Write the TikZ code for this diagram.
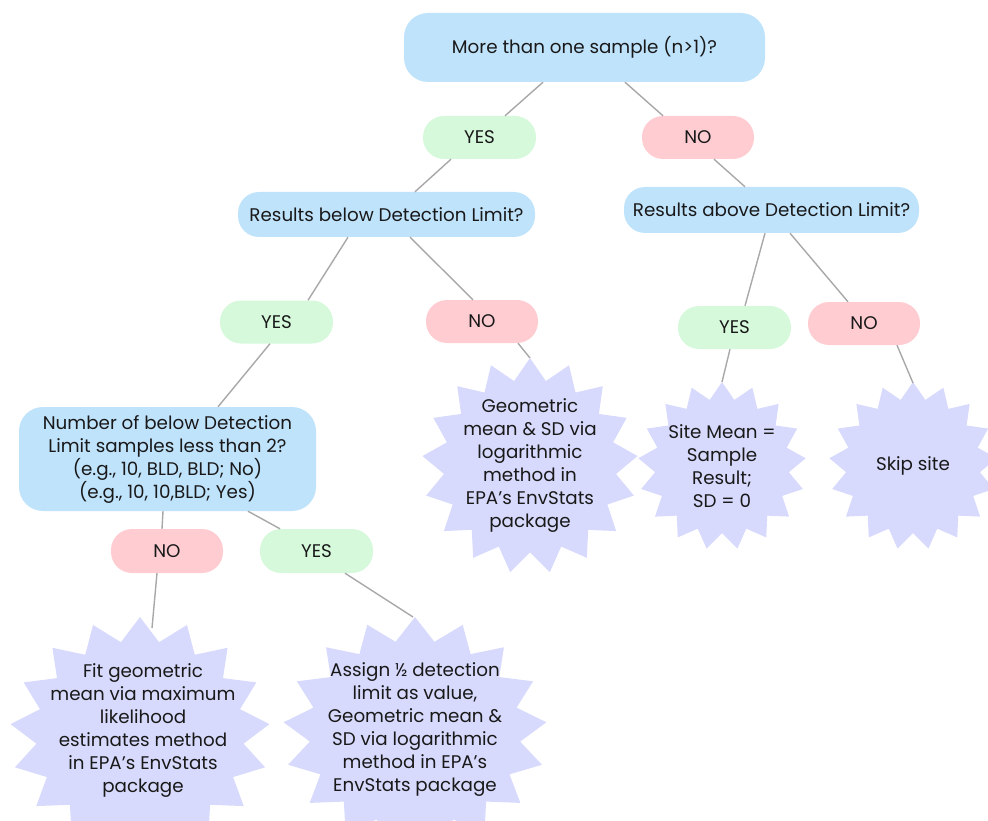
\documentclass[tikz,border=0pt]{standalone}
\usepackage{fontspec}
\setmainfont{Poppins}
\usetikzlibrary{calc}
\definecolor{cblue}{RGB}{192,227,252}
\definecolor{cgreen}{RGB}{214,249,220}
\definecolor{cpink}{RGB}{255,204,210}
\definecolor{clav}{RGB}{215,218,252}
\definecolor{cline}{RGB}{168,168,168}
\definecolor{ink}{RGB}{25,25,25}
\newcommand\starburst[4]{%
  \fill[clav] ({#1+#3*cos(-90)},{#2+#4*sin(-90)})
  \foreach \k in {0,...,16}{ -- ({#1+0.8*#3*cos(-90+(\k+0.5)*360/17)},{#2+0.8*#4*sin(-90+(\k+0.5)*360/17)}) -- ({#1+#3*cos(-90+(\k+1)*360/17)},{#2+#4*sin(-90+(\k+1)*360/17)}) } -- cycle;}
\begin{document}
\begin{tikzpicture}[x=1pt,y=-1pt,
  every node/.style={text=ink, font=\fontsize{18.3}{23}\selectfont, inner sep=0pt, align=center},
  qbox/.style={fill=cblue, rounded corners=#1},
  qbox/.default=22pt,
  yesbox/.style={fill=cgreen, rounded corners=21pt, minimum width=113pt, minimum height=43pt},
  nobox/.style={fill=cpink, rounded corners=21pt, minimum width=112pt, minimum height=43pt},
  conn/.style={draw=cline, line width=1.4pt}]
\useasboundingbox (0,0) rectangle (988,821);
\clip (0,0) rectangle (988,821);
% bursts
\starburst{530}{466}{108}{108}
\starburst{722}{466}{84}{84}
\starburst{913}{466}{84}{84}
\starburst{140}{735}{130}{118}
\starburst{415}{733}{132}{116}
\coordinate (geotop) at (530,358);
\coordinate (sitetop) at (722,382);
\coordinate (skiptop) at (913,383);
\coordinate (bltop) at (152,628);
\coordinate (brtop) at (413,617);
% question boxes
\node[qbox=24pt, minimum width=361pt, minimum height=69pt] (top) at (584.5,47.5) {More than one sample (n>1)?};
\node[qbox=21pt, minimum width=297pt, minimum height=45pt] (rbelow) at (386.5,214.5) {Results below Detection Limit?};
\node[qbox=21pt, minimum width=295pt, minimum height=46pt] (rabove) at (771.5,210) {Results above Detection Limit?};
\node[qbox=24pt, minimum width=297pt, minimum height=104pt] (num) at (167.5,459) {Number of below Detection\\Limit samples less than 2?\\(e.g., 10, BLD, BLD; No)\\(e.g., 10, 10,BLD; Yes)};
% answers
\node[yesbox] (yes1) at (479.5,137.5) {YES};
\node[nobox] (no1) at (698,137.5) {NO};
\node[yesbox] (yes2) at (276.5,322) {YES};
\node[nobox] (no2) at (482,321.5) {NO};
\node[yesbox] (yes3) at (734.5,327.5) {YES};
\node[nobox] (no3) at (864,323.5) {NO};
\node[nobox, minimum height=44pt] (no4) at (167,551) {NO};
\node[yesbox, minimum height=44pt] (yes4) at (316.5,551) {YES};
% burst texts
\node (tgeo) at (530,466) {Geometric\\mean \& SD via\\logarithmic\\method in\\EPA’s EnvStats\\package};
\node (tsite) at (722,466) {Site Mean =\\Sample\\Result;\\SD = 0};
\node (tskip) at (913,466) {Skip site};
\node (tbl) at (143,731) {Fit geometric\\mean via maximum\\likelihood\\estimates method\\in EPA’s EnvStats\\package};
\node (tbr) at (415,730) {Assign ½ detection\\limit as value,\\Geometric mean \&\\SD via logarithmic\\method in EPA’s\\EnvStats package};
% connectors
\draw[conn] ($(top.south)+(-41.5,0)$) -- ($(yes1.north)+(25.5,0)$);
\draw[conn] ($(top.south)+(40.5,0)$) -- ($(no1.north)+(-35,0)$);
\draw[conn] ($(yes1.south)+(-28.5,0)$) -- ($(rbelow.north)+(28.5,0)$);
\draw[conn] ($(no1.south)+(16,0)$) -- ($(rabove.north)+(-26.5,0)$);
\draw[conn] ($(rbelow.south)+(-38.5,0)$) -- ($(yes2.north)+(31.5,0)$);
\draw[conn] ($(rbelow.south)+(23.5,0)$) -- ($(no2.north)+(-9,0)$);
\draw[conn] ($(yes2.south)+(-6.5,0)$) -- ($(num.north)+(50.5,0)$);
\draw[conn] ($(num.south)+(-4.5,0)$) -- ($(no4.north)+(-5,0)$);
\draw[conn] ($(num.south)+(80.5,0)$) -- ($(yes4.north)+(-36.5,0)$);
\draw[conn] ($(no4.south)+(-10,0)$) -- (bltop);
\draw[conn] ($(yes4.south)+(28.5,0)$) -- (brtop);
\draw[conn] ($(no2.south)+(36,0)$) -- (geotop);
\draw[conn] ($(rabove.south)+(-6.5,0)$) -- ($(yes3.north)+(10.5,0)$);
\draw[conn] ($(rabove.south)+(18.5,0)$) -- ($(no3.north)+(-16,0)$);
\draw[conn] ($(yes3.south)+(-4.5,0)$) -- (sitetop);
\draw[conn] ($(no3.south)+(33,0)$) -- (skiptop);
\end{tikzpicture}
\end{document}
